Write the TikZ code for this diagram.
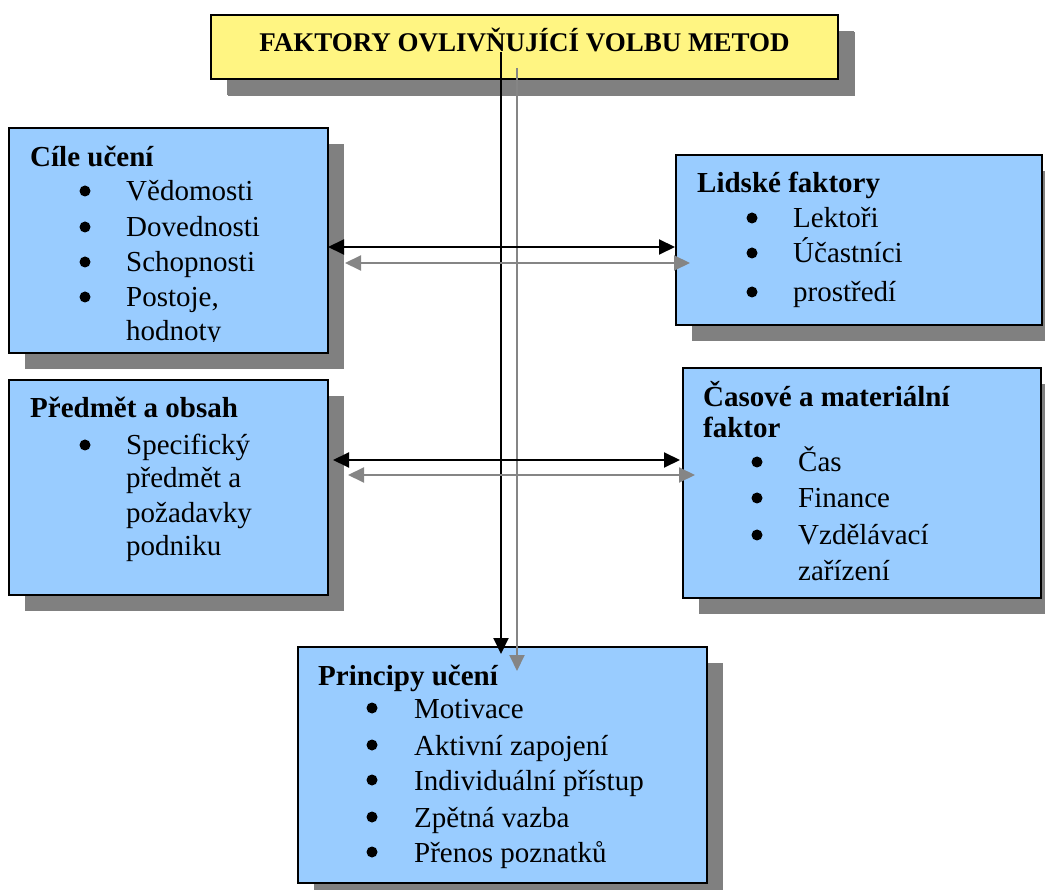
\documentclass[tikz,border=0pt]{standalone}
\usepackage{fontspec}
\setmainfont{Liberation Serif}
\usetikzlibrary{shadows,arrows.meta}

\definecolor{boxblue}{HTML}{99CCFF}
\definecolor{titleyellow}{HTML}{FFF582}
\definecolor{shade}{HTML}{808080}
\definecolor{linkgray}{HTML}{858585}

\newcommand\bodyfont{\fontsize{29}{34}\selectfont}
\newcommand\headfont{\fontsize{29}{34}\selectfont\bfseries}
\newcommand\titlefont{\fontsize{27}{32}\selectfont\bfseries}

\begin{document}
\begin{tikzpicture}[x=1pt,y=-1pt,
  panel/.style={draw=black, line width=2pt, fill=boxblue, anchor=north west,
    inner sep=0pt, outer sep=0pt,
    drop shadow={shadow xshift=16pt, shadow yshift=-16pt, fill=shade, opacity=1}},
  titlebox/.style={panel, fill=titleyellow,
    drop shadow={shadow xshift=17pt, shadow yshift=-17pt, fill=shade, opacity=1}},
  head/.style={anchor=base west, inner sep=0pt, font=\headfont},
  entry/.style={anchor=base west, inner sep=0pt, font=\bodyfont},
  dot/.style={fill=black},
  blk/.style={draw=black, line width=2pt, -{Triangle[length=16pt,width=15pt]}},
  blkboth/.style={draw=black, line width=2pt, {Triangle[length=16pt,width=15pt]}-{Triangle[length=16pt,width=15pt]}},
  gry/.style={draw=linkgray, line width=2pt, -{Triangle[length=16pt,width=15pt]}},
  gryboth/.style={draw=linkgray, line width=2pt, {Triangle[length=16pt,width=15pt]}-{Triangle[length=16pt,width=15pt]}},
]
\useasboundingbox (0,0) rectangle (1045,890);

% boxes
\node[titlebox, minimum width=627pt, minimum height=64pt] (title) at (211,15) {};
\node[panel, minimum width=319pt, minimum height=225pt] (cile) at (9,128) {};
\node[panel, minimum width=366pt, minimum height=170pt] (lidske) at (676,155) {};
\node[panel, minimum width=319pt, minimum height=215pt] (predmet) at (9,380) {};
\node[panel, minimum width=358pt, minimum height=230pt] (casove) at (683,368) {};
\node[panel, minimum width=409pt, minimum height=236pt] (principy) at (298,647) {};

% title
\node[anchor=base, inner sep=0pt, font=\titlefont] (titletext) at (524.5,52)
  {FAKTORY OVLIVŇUJÍCÍ VOLBU METOD};

% learning goals
\node[head] (cileh) at (30,167) {Cíle učení};
\foreach \yy/\tt [count=\i] in {201/Vědomosti, 237/Dovednosti, 272/Schopnosti, 307/{Postoje,}} {
  \fill[dot] (85,\yy-10) circle (5.5);
  \node[entry] (cile\i) at (126,\yy) {\tt};
}
\begin{scope}
  \clip (0,0) rectangle (1045,342);
  \node[entry] (cile5) at (126,341) {hodnoty};
\end{scope}

% human factors
\node[head] (lidskeh) at (697,193) {Lidské faktory};
\foreach \yy/\tt [count=\i] in {228/Lektoři, 263/Účastníci, 302/prostředí} {
  \fill[dot] (752,\yy-10) circle (5.5);
  \node[entry] (lidske\i) at (793,\yy) {\tt};
}

% subject and content
\node[head] (predmeth) at (30,418) {Předmět a obsah};
\fill[dot] (85,445) circle (5.5);
\node[entry] (predmet1) at (126,455) {Specifický};
\node[entry] (predmet2) at (126,488) {předmět a};
\node[entry] (predmet3) at (126,522) {požadavky};
\node[entry] (predmet4) at (126,555) {podniku};

% time and material factor
\node[head] (casoveh) at (703,407) {Časové a materiální};
\node[head] (casoveh2) at (703,438) {faktor};
\foreach \yy/\tt [count=\i] in {472/Čas, 508/Finance, 545/Vzdělávací} {
  \fill[dot] (757,\yy-10) circle (5.5);
  \node[entry] (casove\i) at (798,\yy) {\tt};
}
\node[entry] (casove4) at (798,580) {zařízení};

% learning principles
\node[head] (principyh) at (318,685) {Principy učení};
\foreach \yy/\tt [count=\i] in {718/Motivace, 755/Aktivní zapojení, 790/Individuální přístup, 827/Zpětná vazba, 862/Přenos poznatků} {
  \fill[dot] (372,\yy-10) circle (5.5);
  \node[entry] (principy\i) at (414,\yy) {\tt};
}

% connector end points
\coordinate (vb0) at (501,52);
\coordinate (vb1) at (501,654);
\coordinate (vg0) at (517,68);
\coordinate (vg1) at (517,671);
\coordinate (hb1a) at (328,247);
\coordinate (hb1b) at (675,247);
\coordinate (hg1a) at (345,263);
\coordinate (hg1b) at (690,263);
\coordinate (hb2a) at (333,460);
\coordinate (hb2b) at (680,460);
\coordinate (hg2a) at (348,475);
\coordinate (hg2b) at (695,475);

% connectors
\draw[gry] (vg0) -- (vg1);
\draw[blk] (vb0) -- (vb1);
\draw[gryboth] (hg1a) -- (hg1b);
\draw[blkboth] (hb1a) -- (hb1b);
\draw[gryboth] (hg2a) -- (hg2b);
\draw[blkboth] (hb2a) -- (hb2b);
\end{tikzpicture}
\end{document}
